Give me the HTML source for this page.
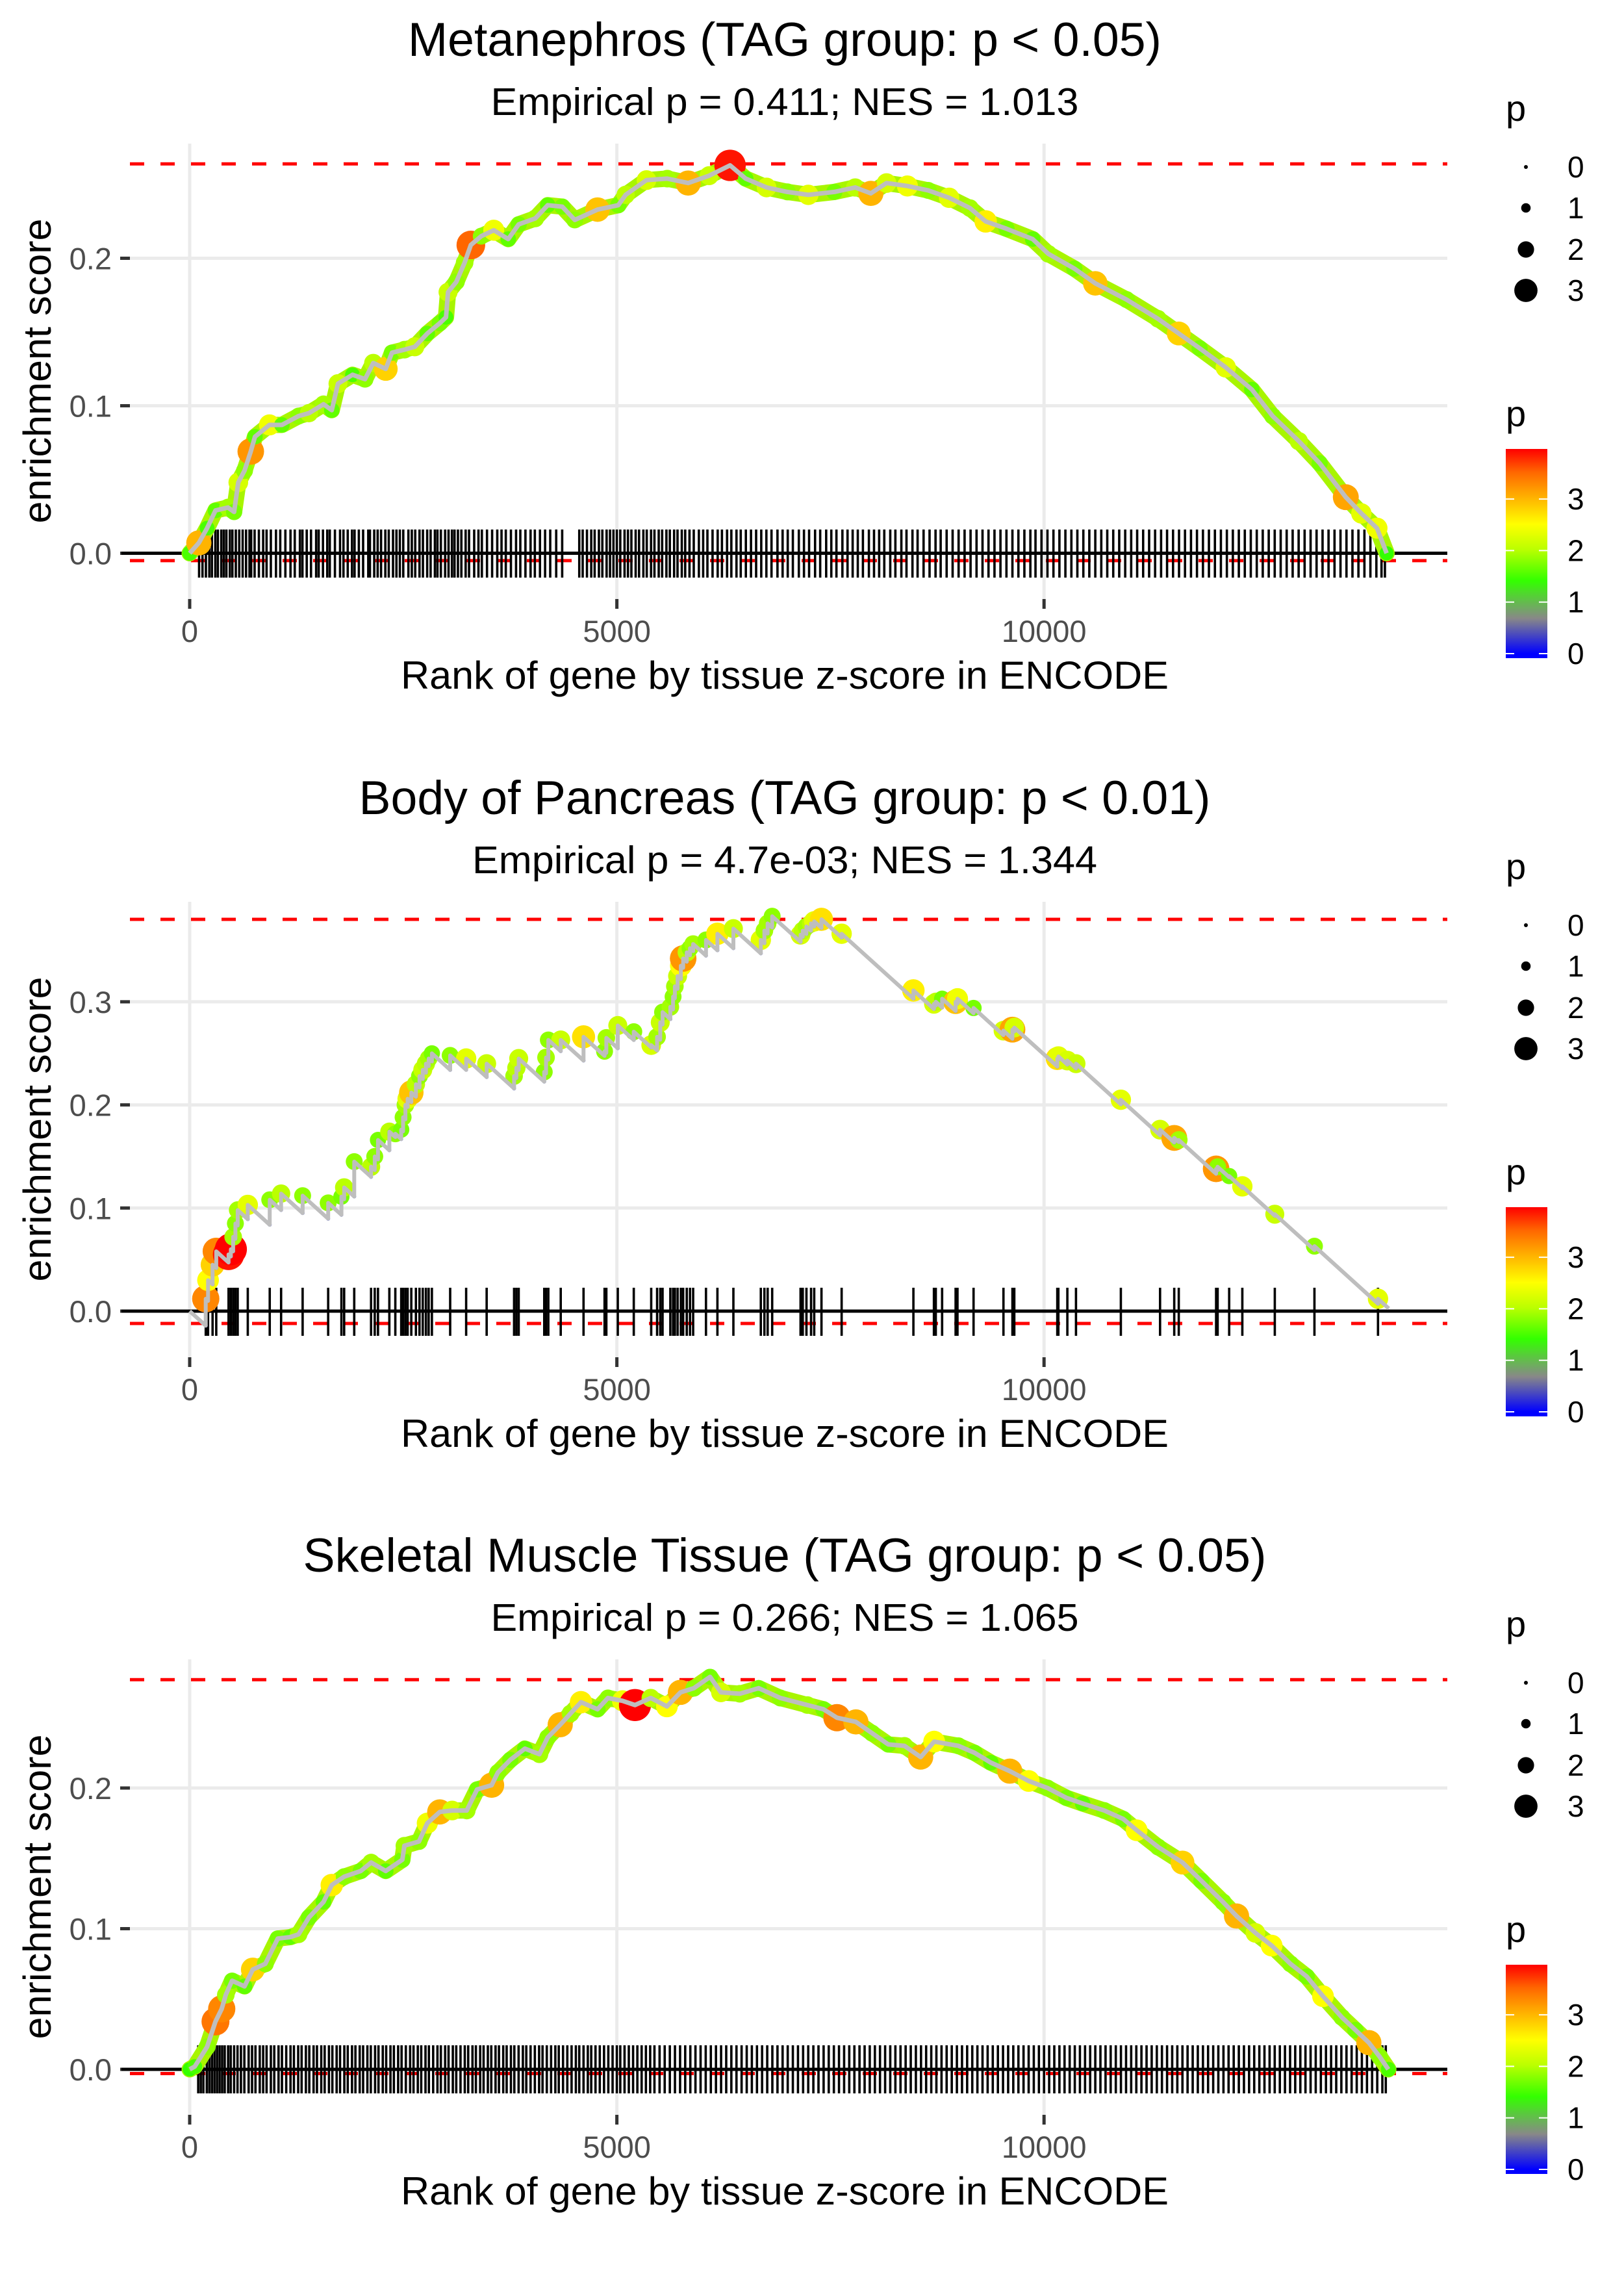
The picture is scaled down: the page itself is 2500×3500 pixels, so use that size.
<!DOCTYPE html>
<html><head><meta charset="utf-8"><title>Enrichment plots</title>
<style>
html,body{margin:0;padding:0;background:#fff;}
svg{display:block;font-family:"Liberation Sans",Arial,sans-serif;}
</style></head>
<body>
<svg id="fig" xmlns="http://www.w3.org/2000/svg" width="2500" height="3500" viewBox="0 0 2500 3500">
<defs>
<linearGradient id="pgrad" x1="0" y1="1" x2="0" y2="0">
<stop offset="0.022" stop-color="#0000ff"/><stop offset="0.19" stop-color="#888888"/><stop offset="0.37" stop-color="#33ff00"/><stop offset="0.52" stop-color="#bbff00"/><stop offset="0.64" stop-color="#ffff00"/><stop offset="0.79" stop-color="#ffa500"/><stop offset="0.89" stop-color="#ff6600"/><stop offset="1" stop-color="#ff0000"/>
</linearGradient>
</defs>
<rect x="0" y="0" width="2500" height="3500" fill="#fff"/>
</svg>
<script>
// ---------- Panel 1: Metanephros ----------
const p1Rank=[0,107,204,302,448,520,569,642,715,764,934,1080,1274,1396,1566,1663,1736,1906,2052,2149,2295,2368,2513,2635,2781,2927,3000,3024,3121,3218,3291,3413,3559,3729,3851,4045,4191,4361,4507,4774,5017,5103,5347,5590,5835,6080,6325,6508,6752,6996,7241,7546,7790,7973,8157,8401,8645,8889,9133,9317,9561,9867,10050,10355,10600,10966,11333,11577,11821,12127,12432,12676,12982,13226,13532,13714,13897,14010];
const p1ES=[0,0.007,0.017,0.029,0.031,0.028,0.048,0.056,0.069,0.079,0.087,0.087,0.093,0.095,0.101,0.097,0.115,0.121,0.118,0.129,0.125,0.136,0.138,0.140,0.149,0.156,0.160,0.177,0.184,0.197,0.209,0.215,0.219,0.213,0.223,0.227,0.236,0.235,0.226,0.233,0.236,0.243,0.253,0.254,0.251,0.256,0.263,0.254,0.248,0.245,0.243,0.245,0.248,0.244,0.251,0.249,0.246,0.241,0.234,0.225,0.220,0.213,0.203,0.193,0.183,0.172,0.159,0.149,0.139,0.126,0.111,0.093,0.076,0.061,0.038,0.027,0.017,0.0];
const p1P=[1.5,3.0,1.5,1.6,1.9,1.7,2.2,1.8,3.2,1.6,2.4,1.6,1.8,2.0,1.9,1.6,2.1,1.5,1.8,2.0,2.8,1.7,1.9,2.1,1.6,1.7,1.5,2.1,1.8,1.9,3.5,1.8,2.4,1.6,1.7,1.9,1.6,1.7,1.8,2.9,1.7,2.0,2.2,1.9,3.0,2.1,3.9,1.6,2.2,1.8,2.3,1.7,2.0,3.0,2.2,2.4,1.8,2.3,1.9,2.6,1.7,1.6,1.9,1.7,2.9,1.8,1.9,2.8,1.7,2.3,1.6,1.8,2.0,1.7,3.1,2.3,2.4,1.4];
const p1Hits=[110,150,190,230,260,300,330,370,400,430,470,500,540,580,620,660,700,720,760,810,860,900,950,1010,1060,1120,1180,1230,1290,1320,1370,1420,1480,1510,1560,1610,1640,1700,1760,1800,1850,1900,1930,1980,2030,2090,2110,2160,2200,2240,2290,2330,2380,2420,2460,2500,2560,2600,2640,2690,2730,2780,2820,2870,2900,2940,2990,3030,3070,3100,3140,3180,3230,3270,3330,3380,3420,3480,3540,3600,3650,3700,3760,3820,3870,3930,3990,4040,4100,4160,4220,4290,4360,4560,4600,4650,4700,4740,4790,4830,4880,4920,4960,5000,5040,5090,5130,5170,5220,5260,5310,5350,5400,5440,5490,5530,5580,5620,5670,5710,5760,5800,5850,5900,5960,6010,6060,6120,6180,6230,6290,6340,6400,6450,6510,6570,6630,6690,6750,6810,6880,6940,7000,7060,7130,7190,7250,7320,7380,7450,7510,7570,7640,7700,7760,7820,7880,7950,8010,8070,8130,8200,8260,8330,8390,8460,8520,8590,8660,8730,8790,8860,8930,9000,9070,9140,9210,9280,9350,9420,9490,9560,9630,9700,9770,9840,9900,9970,10040,10110,10180,10250,10320,10390,10460,10530,10600,10670,10740,10810,10880,10950,11020,11090,11160,11230,11300,11370,11440,11510,11580,11650,11720,11790,11860,11930,12000,12070,12140,12210,12280,12350,12420,12490,12560,12630,12700,12770,12840,12910,12980,13050,13120,13190,13260,13330,13400,13470,13540,13610,13680,13750,13820,13890,13950,13990];
const p1Ticks=[0,0.1,0.2];
const p1TickLabels=["0.0","0.1","0.2"];
const p1Max=0.264, p1Min=-0.005;

// ---------- Panel 2: Body of Pancreas ----------
const p2Hits=[188,215,268,311,455,482,509,535,562,680,937,1070,1322,1621,1776,1808,1926,2123,2166,2204,2337,2407,2476,2498,2525,2551,2594,2648,2690,2728,2765,2797,2835,3049,3236,3476,3797,3824,3851,4150,4171,4198,4343,4610,4856,4877,5011,5198,5402,5471,5508,5535,5626,5658,5679,5711,5749,5776,5818,5856,5893,6043,6177,6364,6685,6727,6765,6818,7150,7176,7219,7273,7310,7395,7631,8471,8711,8733,8807,8965,8987,9175,9525,9630,9652,10155,10168,10273,10374,10899,11358,11524,11577,12014,12032,12167,12321,12701,13165,13909];
const p2Top=[0.012,0.030,0.045,0.058,0.055,0.060,0.072,0.085,0.098,0.103,0.108,0.114,0.112,0.105,0.111,0.120,0.145,0.140,0.150,0.166,0.174,0.172,0.176,0.188,0.200,0.206,0.212,0.220,0.228,0.234,0.240,0.245,0.250,0.248,0.245,0.240,0.228,0.236,0.245,0.232,0.246,0.263,0.263,0.266,0.252,0.265,0.277,0.271,0.258,0.266,0.280,0.290,0.295,0.305,0.315,0.325,0.335,0.342,0.348,0.352,0.356,0.360,0.366,0.371,0.360,0.369,0.376,0.383,0.365,0.369,0.373,0.376,0.378,0.380,0.366,0.311,0.298,0.300,0.303,0.300,0.303,0.294,0.272,0.273,0.275,0.245,0.247,0.243,0.240,0.205,0.176,0.168,0.166,0.138,0.140,0.131,0.121,0.094,0.063,0.012];
const p2P=[3.3,2.5,2.8,3.3,3.9,4.0,1.9,1.8,1.9,2.3,1.8,2.0,1.8,1.8,1.7,2.0,1.8,2.0,1.8,1.7,2.0,1.8,1.7,1.8,1.9,2.3,2.9,2.0,1.8,2.1,2.0,1.9,1.7,1.8,2.3,2.1,1.9,2.0,2.1,1.8,1.9,1.8,2.1,2.7,1.8,1.9,2.1,1.8,2.2,1.9,2.1,1.8,1.9,1.8,1.9,2.1,2.5,3.2,2.0,1.8,1.9,1.8,2.6,2.1,2.3,1.9,1.9,1.8,2.2,2.0,1.9,2.0,2.3,2.7,2.3,2.6,2.2,2.0,1.7,2.9,2.4,1.7,2.2,3.1,2.2,2.7,2.3,2.2,2.1,2.3,2.2,3.1,1.9,3.2,1.8,1.7,2.3,2.1,1.8,2.3];
const p2MissStep=7.5e-5;
const p2End=14035;
const p2Ticks=[0,0.1,0.2,0.3];
const p2TickLabels=["0.0","0.1","0.2","0.3"];
const p2Max=0.380, p2Min=-0.012;

// ---------- Panel 3: Skeletal Muscle Tissue ----------
const p3Rank=[0,59,204,302,375,423,496,642,739,885,1031,1177,1274,1396,1566,1663,1809,2003,2124,2295,2489,2513,2684,2781,2927,3072,3243,3364,3534,3607,3753,3923,4094,4191,4337,4458,4580,4774,4896,5066,5212,5396,5586,5744,5902,6091,6218,6439,6660,6913,7229,7418,7576,7798,7987,8177,8366,8556,8714,8998,9188,9378,9599,9820,10041,10262,10452,10705,10926,11084,11337,11621,11842,12095,12253,12474,12664,12885,13075,13265,13486,13644,13802,13928,14030];
const p3ES=[0,0.002,0.016,0.034,0.043,0.053,0.063,0.059,0.071,0.075,0.093,0.094,0.096,0.108,0.119,0.131,0.137,0.141,0.147,0.141,0.149,0.159,0.162,0.175,0.183,0.184,0.184,0.199,0.202,0.211,0.220,0.228,0.224,0.236,0.245,0.253,0.261,0.256,0.264,0.262,0.259,0.264,0.258,0.268,0.271,0.279,0.268,0.267,0.271,0.264,0.259,0.256,0.250,0.247,0.239,0.231,0.230,0.222,0.233,0.230,0.225,0.218,0.212,0.205,0.200,0.193,0.189,0.184,0.178,0.170,0.158,0.147,0.134,0.119,0.109,0.097,0.088,0.075,0.066,0.052,0.037,0.028,0.019,0.009,0.0];
const p3P=[1.4,1.5,1.8,3.4,3.3,1.9,1.7,1.6,2.8,1.8,1.7,1.6,1.9,1.7,1.6,2.6,1.8,1.7,1.9,1.6,1.7,1.9,1.8,2.4,3.0,2.2,1.9,1.7,3.0,1.8,1.7,1.6,1.9,1.8,3.0,1.9,2.6,1.7,1.8,2.4,4.0,2.0,2.5,3.0,1.8,1.7,2.2,1.9,1.7,1.8,1.9,1.7,3.3,3.0,1.8,1.7,1.9,3.0,2.5,1.8,1.7,1.6,3.0,2.5,1.8,1.7,1.6,1.8,1.7,2.5,1.8,2.8,1.7,1.8,3.0,2.2,2.5,1.8,1.7,2.5,1.8,1.7,3.0,1.8,1.5];
const p3Hits=[100,130,160,200,230,260,290,320,350,380,410,450,480,520,560,600,640,690,730,770,820,860,900,950,990,1040,1080,1130,1180,1220,1270,1310,1360,1400,1450,1490,1540,1580,1630,1670,1720,1760,1810,1850,1900,1940,1990,2030,2080,2120,2170,2210,2260,2300,2350,2390,2440,2480,2530,2580,2620,2670,2710,2760,2800,2850,2900,2940,2990,3030,3080,3120,3170,3220,3260,3310,3350,3400,3440,3490,3530,3580,3620,3670,3710,3760,3800,3850,3900,3940,3990,4040,4090,4130,4180,4230,4280,4320,4370,4420,4470,4520,4560,4610,4660,4700,4750,4800,4850,4900,4950,5000,5040,5090,5140,5190,5240,5290,5340,5390,5440,5500,5560,5620,5680,5740,5800,5860,5920,5980,6040,6100,6160,6220,6280,6340,6400,6460,6520,6580,6640,6700,6760,6820,6880,6940,7000,7060,7120,7180,7240,7300,7360,7420,7480,7540,7600,7660,7720,7780,7840,7900,7960,8020,8080,8140,8200,8260,8320,8380,8440,8500,8560,8620,8680,8740,8800,8860,8920,8980,9040,9100,9160,9220,9280,9340,9400,9460,9520,9580,9640,9700,9760,9820,9880,9940,10000,10060,10120,10180,10240,10300,10360,10420,10480,10540,10600,10660,10720,10780,10840,10900,10960,11020,11080,11140,11200,11260,11320,11380,11440,11500,11560,11620,11680,11740,11800,11860,11920,11980,12040,12100,12160,12220,12280,12340,12400,12460,12520,12580,12640,12700,12760,12820,12880,12940,13000,13060,13120,13180,13240,13300,13360,13420,13480,13540,13600,13660,13720,13780,13840,13900,13960,14000];
const p3Ticks=[0,0.1,0.2];
const p3TickLabels=["0.0","0.1","0.2"];
const p3Max=0.277, p3Min=-0.003;

const xTicks=[0,5000,10000];
const xTickLabels=["0","5000","10000"];
const legendSizes=[0,1,2,3];
const colorbarTicks=[0,1,2,3];

// ---------- rendering ----------
const NS="http://www.w3.org/2000/svg";
const svg=document.getElementById('fig');
function mk(tag,attrs,parent){const e=document.createElementNS(NS,tag);for(const k in attrs)e.setAttribute(k,attrs[k]);(parent||svg).appendChild(e);return e;}
const X0=292, XS=0.13152, LEFT=187, RIGHT=2228;
function xs(r){return X0+r*XS;}
function pr(p){return 3.5+5.3*p;}
const cStops=[[0,[0,0,255]],[0.7,[136,136,136]],[1.4,[51,255,0]],[2.0,[187,255,0]],[2.5,[255,255,0]],[3.1,[255,165,0]],[3.5,[255,102,0]],[4,[255,0,0]]];
function pcol(p){if(p<=0)return 'rgb(0,0,255)';for(let i=1;i<cStops.length;i++){if(p<=cStops[i][0]){const a=cStops[i-1],b=cStops[i];const t=(p-a[0])/(b[0]-a[0]);const c=a[1].map((v,j)=>Math.round(v+(b[1][j]-v)*t));return 'rgb('+c.join(',')+')';}}return 'rgb(255,0,0)';}

function frame(cfg){
  const g=mk('g',{});
  
  
  const off=cfg.off, y0=off+cfg.y0, ys=cfg.ys;
  const yv=v=>y0-v*ys;
  const t=mk('text',{x:1208,y:off+86,'font-size':73,'text-anchor':'middle',fill:'#000',textLength:cfg.titleLen,lengthAdjust:'spacingAndGlyphs'},g);
  t.textContent=cfg.title;
  
  
  const s=mk('text',{x:1208,y:off+177,'font-size':59,'text-anchor':'middle',fill:'#000',textLength:cfg.subLen,lengthAdjust:'spacingAndGlyphs'},g);
  s.textContent=cfg.sub;
  
  
  cfg.ticks.forEach((v,i)=>{
    const l=mk('line',{x1:LEFT,x2:RIGHT,y1:yv(v),y2:yv(v),stroke:'#ebebeb','stroke-width':5},g);
    
    
    const tk=mk('line',{x1:185,x2:200,y1:yv(v),y2:yv(v),stroke:'#333','stroke-width':5},g);
    
    
    const tl=mk('text',{x:172,y:yv(v)+17,'font-size':47,'text-anchor':'end',fill:'#4d4d4d'},g);
    tl.textContent=cfg.tickLabels[i];
    
    
  });
  xTicks.forEach((v,i)=>{
    const l=mk('line',{x1:xs(v),x2:xs(v),y1:off+221,y2:off+922,stroke:'#ebebeb','stroke-width':5},g);
    
    
    const tk=mk('line',{x1:xs(v),x2:xs(v),y1:off+922,y2:off+937,stroke:'#333','stroke-width':5},g);
    
    
    const tl=mk('text',{x:xs(v),y:off+988,'font-size':47,'text-anchor':'middle',fill:'#4d4d4d'},g);
    tl.textContent=xTickLabels[i];
    
    
  });
  const xt=mk('text',{x:1208,y:off+1060,'font-size':60,'text-anchor':'middle',fill:'#000',textLength:1182,lengthAdjust:'spacingAndGlyphs'},g);
  xt.textContent='Rank of gene by tissue z-score in ENCODE';
  
  
  const yt=mk('text',{x:0,y:0,'font-size':60,'text-anchor':'middle',fill:'#000',transform:'translate(78,'+(off+571)+') rotate(-90)',textLength:469,lengthAdjust:'spacingAndGlyphs'},g);
  yt.textContent='enrichment score';
  
  
  [cfg.max,cfg.min].forEach(v=>{
    const d=mk('line',{x1:200,x2:RIGHT,y1:yv(v),y2:yv(v),stroke:'#ff0000','stroke-width':5,'stroke-dasharray':'22 25'},g);
    
    
  });
  cfg.hits.forEach(r=>{
    const l=mk('line',{x1:xs(r),x2:xs(r),y1:off+815,y2:off+889,stroke:'#000','stroke-width':3.6},g);
    
    
  });
  const z=mk('line',{x1:LEFT,x2:RIGHT,y1:y0,y2:y0,stroke:'#000','stroke-width':5},g);
  
  
  return {g,yv};
}

function dense(cfg,rank,es,pv){
  const {g,yv}=frame(cfg);
  const pts=rank.map((r,i)=>xs(r).toFixed(1)+','+yv(es[i]).toFixed(1)).join(' ');
  const band=mk('polyline',{points:pts,fill:'none',stroke:'#a8f500','stroke-width':25,'stroke-linejoin':'round','stroke-linecap':'round'},g);
  
  
  rank.forEach((r,i)=>{
    const c=mk('circle',{cx:xs(r),cy:yv(es[i]),r:pr(pv[i]),fill:pcol(pv[i])},g);
    
    
  });
  const line=mk('polyline',{points:pts,fill:'none',stroke:'#bebebe','stroke-width':7,'stroke-linejoin':'round'},g);
  
  
}

dense({name:'panel-metanephros',off:0,y0:851.5,ys:2270,ticks:p1Ticks,tickLabels:p1TickLabels,max:p1Max,min:p1Min,hits:p1Hits,title:'Metanephros (TAG group: p < 0.05)',titleLen:1160,sub:'Empirical p = 0.411; NES = 1.013',subLen:905},p1Rank,p1ES,p1P);

(function(){
  const cfg={name:'panel-body-of-pancreas',off:1167,y0:851,ys:1587,ticks:p2Ticks,tickLabels:p2TickLabels,max:p2Max,min:p2Min,hits:p2Hits,title:'Body of Pancreas (TAG group: p < 0.01)',titleLen:1311,sub:'Empirical p = 4.7e-03; NES = 1.344',subLen:962};
  const {g,yv}=frame(cfg);
  let prevR=0, prevE=0; const path=[[0,0]]; const bottoms=[];
  p2Hits.forEach((r,i)=>{
    const b=prevE-p2MissStep*(r-prevR);
    path.push([r,b]); path.push([r,p2Top[i]]); bottoms.push([r,b]);
    prevR=r; prevE=p2Top[i];
  });
  path.push([p2End,prevE-p2MissStep*(p2End-prevR)]);
  p2Hits.forEach((r,i)=>{
    const c=mk('circle',{cx:xs(r),cy:yv(p2Top[i]),r:pr(p2P[i]),fill:pcol(p2P[i])},g);
    
    
  });
  bottoms.forEach(b=>{
    const c=mk('circle',{cx:xs(b[0]),cy:yv(b[1]),r:3,fill:'#3344ff'},g);
    
    
  });
  const line=mk('polyline',{points:path.map(p=>xs(p[0]).toFixed(1)+','+yv(p[1]).toFixed(1)).join(' '),fill:'none',stroke:'#bebebe','stroke-width':6,'stroke-linejoin':'round'},g);
  
  
})();

dense({name:'panel-skeletal-muscle',off:2333,y0:852,ys:2165,ticks:p3Ticks,tickLabels:p3TickLabels,max:p3Max,min:p3Min,hits:p3Hits,title:'Skeletal Muscle Tissue (TAG group: p < 0.05)',titleLen:1483,sub:'Empirical p = 0.266; NES = 1.065',subLen:905},p3Rank,p3ES,p3P);

[0,1167,2333].forEach(off=>{
  const g=mk('g',{});
  
  
  const t1=mk('text',{x:2318,y:off+186,'font-size':56,fill:'#000'},g);
  t1.textContent='p';
  
  
  const rowY=[257,320,384,447];
  legendSizes.forEach((v,i)=>{
    const c=mk('circle',{cx:2349,cy:off+rowY[i],r:(v===0?3:pr(v)-1.5),fill:'#000'},g);
    
    
    const l=mk('text',{x:2413,y:off+rowY[i]+16,'font-size':46,fill:'#000'},g);
    l.textContent=String(v);
    
    
  });
  const t2=mk('text',{x:2318,y:off+656,'font-size':56,fill:'#000'},g);
  t2.textContent='p';
  
  
  const bar=mk('rect',{x:2318,y:off+691,width:64,height:322,fill:'url(#pgrad)'},g);
  
  
  colorbarTicks.forEach(v=>{
    const y=off+1006-v*79.3;
    const a=mk('line',{x1:2318,x2:2331,y1:y,y2:y,stroke:'#fff','stroke-width':2},g);
    
    
    const b=mk('line',{x1:2369,x2:2382,y1:y,y2:y,stroke:'#fff','stroke-width':2},g);
    
    
    const l=mk('text',{x:2413,y:y+16,'font-size':46,fill:'#000'},g);
    l.textContent=String(v);
    
    
  });
});
</script>
</body></html>
